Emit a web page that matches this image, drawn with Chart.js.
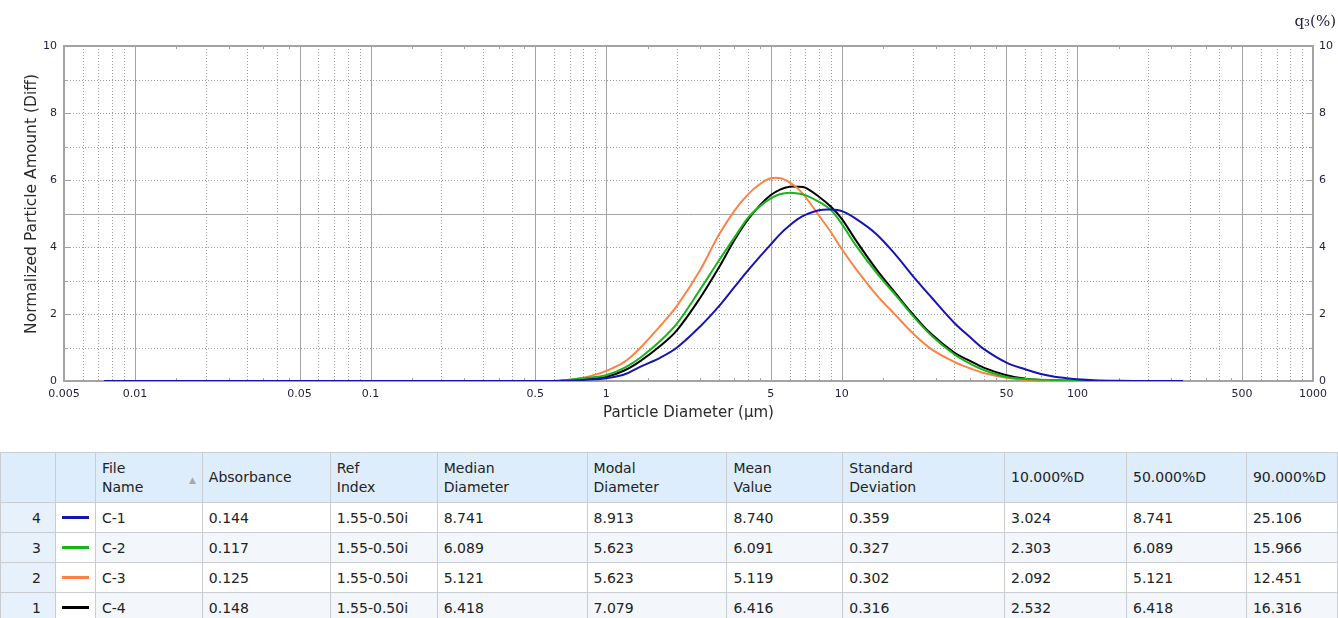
<!DOCTYPE html>
<html>
<head>
<meta charset="utf-8">
<script src="https://cdn.jsdelivr.net/npm/chart.js@4.4.0/dist/chart.umd.min.js"></script>
<style>
  body { margin: 0; background: #fff; font-family: "DejaVu Sans", sans-serif; color: #222; }
  #wrap { position: absolute; left: 0; top: 0; width: 1338px; height: 440px; }
  #results { position: absolute; left: 0; top: 452px; border-collapse: collapse; table-layout: fixed; font-size: 14px; }
  #results th, #results td { border: 1px solid #c9cdd2; padding: 0 6px; text-align: left; white-space: nowrap; overflow: hidden; }
  #results th { background: #ddedfb; font-weight: normal; height: 49px; line-height: 19px; vertical-align: middle; }
  #results td { height: 29px; }
  #results td.num { background: #e6f1fc; text-align: right; padding-right: 14px; }
  #results td.sw { background: #fff; padding: 0 6px; }
  #results tr.alt td { background: #f3f7fb; }
  #results tr.alt td.num { background: #e6f1fc; }
  #results tr.alt td.sw { background: #fff; }
  .swatch { display: block; width: 27px; height: 3px; }
  .sort { float: right; color: #a9a9a9; font-size: 9px; margin-top: 12px; }
</style>
</head>
<body>
<div id="wrap"><canvas id="psdChart"></canvas></div>
<table id="results">
  <colgroup>
    <col style="width:55px"><col style="width:40px"><col style="width:107px"><col style="width:128px">
    <col style="width:107px"><col style="width:150px"><col style="width:140px"><col style="width:116px">
    <col style="width:162px"><col style="width:122px"><col style="width:120px"><col style="width:91px">
  </colgroup>
  <thead>
    <tr>
      <th></th><th></th>
      <th><span class="sort">&#9650;</span>File<br>Name</th>
      <th>Absorbance</th><th>Ref<br>Index</th><th>Median<br>Diameter</th><th>Modal<br>Diameter</th>
      <th>Mean<br>Value</th><th>Standard<br>Deviation</th><th>10.000%D</th><th>50.000%D</th><th>90.000%D</th>
    </tr>
  </thead>
  <tbody id="resultsBody"></tbody>
</table>
<script>
// Particle diameters (µm)
const diameters = [0.0074, 0.59, 0.65, 0.7, 0.8, 0.9, 1, 1.2, 1.4, 1.7, 2, 2.5, 3, 3.5, 4, 4.5, 5, 5.5, 6, 6.5,
  7, 8, 9, 10, 11.5, 14, 17, 20, 24, 30, 35, 40, 50, 60, 70, 80, 90, 100, 118, 150, 200, 281];

// Normalized particle amount (Diff) for each sample
const amountC1 = [0, 0, 0.005, 0.01, 0.03, 0.05, 0.08, 0.2, 0.43, 0.7, 1.0, 1.62, 2.22, 2.8, 3.3, 3.72, 4.08, 4.4, 4.64, 4.83,
  4.96, 5.1, 5.12, 5.07, 4.84, 4.39, 3.75, 3.14, 2.5, 1.74, 1.31, 0.96, 0.55, 0.35, 0.21, 0.13, 0.085, 0.05, 0.02, 0.005, 0, 0];
const amountC2 = [null, 0, 0.02, 0.04, 0.08, 0.12, 0.17, 0.4, 0.7, 1.2, 1.72, 2.72, 3.58, 4.28, 4.87, 5.22, 5.45, 5.58, 5.62, 5.6,
  5.55, 5.35, 5.1, 4.69, 4.04, 3.24, 2.55, 1.95, 1.36, 0.8, 0.52, 0.33, 0.12, 0.06, 0.04, 0.03, 0.02, 0.015, 0, null, null, null];
const amountC3 = [null, null, 0, 0.04, 0.1, 0.19, 0.3, 0.58, 1.0, 1.65, 2.25, 3.3, 4.35, 5.08, 5.57, 5.88, 6.05, 6.05, 5.93, 5.75,
  5.5, 4.94, 4.44, 3.94, 3.34, 2.58, 1.95, 1.43, 0.95, 0.57, 0.38, 0.24, 0.1, 0.04, 0.02, 0.01, 0, 0, null, null, null, null];
const amountC4 = [null, null, 0, 0.02, 0.05, 0.08, 0.12, 0.32, 0.6, 1.05, 1.52, 2.47, 3.37, 4.2, 4.82, 5.25, 5.55, 5.72, 5.8, 5.8,
  5.77, 5.5, 5.2, 4.84, 4.19, 3.34, 2.6, 2.0, 1.4, 0.85, 0.6, 0.4, 0.17, 0.07, 0.03, 0.02, 0.01, 0, null, null, null, null];

// Axis ticks
const xTickLabels = [0.005, 0.01, 0.05, 0.1, 0.5, 1, 5, 10, 50, 100, 500, 1000];
const yTickLabels = [0, 2, 4, 6, 8, 10];

// Results table
const rowNumbers = [4, 3, 2, 1];
const fileNames = ['C-1', 'C-2', 'C-3', 'C-4'];
const seriesColors = ['#1515b5', '#18b418', '#ff8244', '#000000'];
const absorbance = ['0.144', '0.117', '0.125', '0.148'];
const refIndex = ['1.55-0.50i', '1.55-0.50i', '1.55-0.50i', '1.55-0.50i'];
const medianDiameter = ['8.741', '6.089', '5.121', '6.418'];
const modalDiameter = ['8.913', '5.623', '5.623', '7.079'];
const meanValue = ['8.740', '6.091', '5.119', '6.416'];
const stdDeviation = ['0.359', '0.327', '0.302', '0.316'];
const d10 = ['3.024', '2.303', '2.092', '2.532'];
const d50 = ['8.741', '6.089', '5.121', '6.418'];
const d90 = ['25.106', '15.966', '12.451', '16.316'];

const seriesAmounts = [amountC1, amountC2, amountC3, amountC4];

// Frame, grid and small tick marks drawn through the chart scales
const plotFrame = {
  id: 'plotFrame',
  beforeDatasetsDraw(chart) {
    const { ctx, chartArea: a, scales: { x, y } } = chart;
    ctx.save();
    ctx.lineWidth = 1;
    // vertical grid
    for (let e = -3; e <= 3; e++) {
      for (let k = 1; k <= 9; k++) {
        const v = k * Math.pow(10, e);
        if (v < x.min * 1.001 || v > x.max * 0.999) continue;
        const px = Math.round(x.getPixelForValue(v)) + 0.5;
        const solid = k === 1 || k === 5;
        ctx.setLineDash(solid ? [] : [1, 2]);
        ctx.strokeStyle = solid ? '#a3a3a3' : '#9c9c9c';
        ctx.beginPath(); ctx.moveTo(px, a.top); ctx.lineTo(px, a.bottom); ctx.stroke();
      }
      // half-step marks
      ctx.setLineDash([]);
      ctx.strokeStyle = '#a3a3a3';
      [1.5, 2.5, 3.5, 4.5].forEach(k => {
        const v = k * Math.pow(10, e);
        if (v < x.min || v > x.max) return;
        const px = Math.round(x.getPixelForValue(v)) + 0.5;
        ctx.beginPath(); ctx.moveTo(px, a.top); ctx.lineTo(px, a.top + 3); ctx.stroke();
        ctx.beginPath(); ctx.moveTo(px, a.bottom - 3); ctx.lineTo(px, a.bottom); ctx.stroke();
      });
    }
    // horizontal grid
    for (let v = 1; v < 10; v++) {
      const py = Math.round(y.getPixelForValue(v)) + 0.5;
      const solid = v === 5;
      ctx.setLineDash(solid ? [] : [1, 2]);
      ctx.strokeStyle = solid ? '#a3a3a3' : '#9c9c9c';
      ctx.beginPath(); ctx.moveTo(a.left, py); ctx.lineTo(a.right, py); ctx.stroke();
    }
    // y tick marks on both sides
    ctx.setLineDash([]);
    ctx.strokeStyle = '#a3a3a3';
    for (let v = 0; v <= 10; v++) {
      const py = Math.round(y.getPixelForValue(v)) + 0.5;
      const len = v % 2 === 0 ? 7 : 3;
      ctx.beginPath(); ctx.moveTo(a.left, py); ctx.lineTo(a.left + len, py); ctx.stroke();
      ctx.beginPath(); ctx.moveTo(a.right - len, py); ctx.lineTo(a.right, py); ctx.stroke();
    }
    // frame
    ctx.lineWidth = 2;
    ctx.strokeStyle = '#a3a3a3';
    ctx.strokeRect(a.left, a.top, a.right - a.left, a.bottom - a.top);
    ctx.restore();
  },
  afterDraw(chart) {
    const { ctx } = chart;
    ctx.save();
    // q3 unit label, top right
    ctx.fillStyle = '#1e1e3c';
    ctx.font = '15px "DejaVu Serif", serif';
    ctx.textAlign = 'right';
    ctx.textBaseline = 'middle';
    ctx.fillText('q\u2083(%)', 1336, 22);
    // y axis title (sits a little above the axis centre in the reference)
    ctx.fillStyle = '#2a2a2a';
    ctx.font = '15.5px "DejaVu Sans", sans-serif';
    ctx.textAlign = 'center';
    ctx.translate(32, 204);
    ctx.rotate(-Math.PI / 2);
    ctx.fillText('Normalized Particle Amount (Diff)', 0, 0);
    ctx.restore();
  }
};

function createChart() {
  const ctx = document.getElementById('psdChart').getContext('2d');
  new Chart(ctx, {
    type: 'line',
    data: {
      datasets: fileNames.map((name, i) => ({
        label: name,
        data: diameters.map((d, j) => ({ x: d, y: seriesAmounts[i][j] })),
        borderColor: seriesColors[i],
        borderWidth: 2,
        pointRadius: 0,
        tension: 0.35,
        spanGaps: false,
        yAxisID: 'y'
      }))
    },
    options: {
      responsive: true,
      maintainAspectRatio: false,
      animation: false,
      layout: { padding: { top: 46, bottom: 10, left: 0, right: 0 } },
      plugins: { legend: { display: false }, tooltip: { enabled: false } },
      scales: {
        x: {
          type: 'logarithmic',
          min: 0.005,
          max: 1000,
          bounds: 'data',
          grid: { display: false, drawTicks: false },
          border: { display: false },
          afterBuildTicks: scale => { scale.ticks = xTickLabels.map(v => ({ value: v })); },
          afterFit: scale => { scale.height = 49; },
          ticks: {
            autoSkip: false, maxRotation: 0, padding: 7,
            color: '#1e1e3c', font: { family: 'DejaVu Sans', size: 11 },
            callback: v => String(v)
          },
          title: {
            display: true, text: 'Particle Diameter (\u00b5m)', color: '#2a2a2a',
            font: { family: 'DejaVu Sans', size: 15 }, padding: { top: 0, bottom: 8 }
          }
        },
        y: {
          position: 'left',
          min: 0, max: 10,
          grid: { display: false, drawTicks: false },
          border: { display: false },
          afterBuildTicks: scale => { scale.ticks = yTickLabels.map(v => ({ value: v })); },
          afterFit: scale => { scale.width = 64; },
          ticks: { padding: 7, color: '#1e1e3c', font: { family: 'DejaVu Sans', size: 11 } }
        },
        yRight: {
          position: 'right',
          min: 0, max: 10,
          grid: { display: false, drawTicks: false },
          border: { display: false },
          afterBuildTicks: scale => { scale.ticks = yTickLabels.map(v => ({ value: v })); },
          afterFit: scale => { scale.width = 25; },
          ticks: { padding: 6, color: '#1e1e3c', font: { family: 'DejaVu Sans', size: 11 } }
        }
      }
    },
    plugins: [plotFrame]
  });
}

function populateTable() {
  const tbody = document.getElementById('resultsBody');
  tbody.innerHTML = fileNames.map((name, i) => `
    <tr class="${i % 2 === 1 ? 'alt' : ''}">
      <td class="num">${rowNumbers[i]}</td>
      <td class="sw"><span class="swatch" style="background:${seriesColors[i]}"></span></td>
      <td>${name}</td>
      <td>${absorbance[i]}</td>
      <td>${refIndex[i]}</td>
      <td>${medianDiameter[i]}</td>
      <td>${modalDiameter[i]}</td>
      <td>${meanValue[i]}</td>
      <td>${stdDeviation[i]}</td>
      <td>${d10[i]}</td>
      <td>${d50[i]}</td>
      <td>${d90[i]}</td>
    </tr>`).join('');
}

createChart();
populateTable();
</script>
</body>
</html>
